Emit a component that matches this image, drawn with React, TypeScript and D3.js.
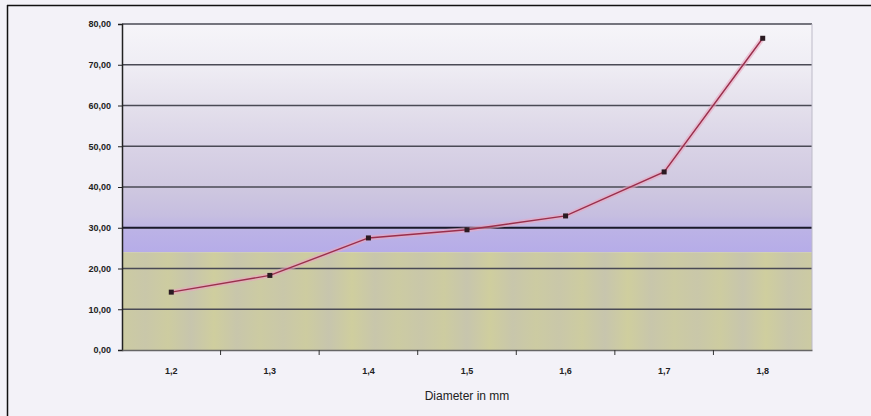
import React, { useEffect, useRef } from "react";
import * as d3 from "d3";

const diameters = ["1,2", "1,3", "1,4", "1,5", "1,6", "1,7", "1,8"];
const values = [14.2, 18.3, 27.5, 29.5, 32.9, 43.7, 76.5];
const yTicks = [0, 10, 20, 30, 40, 50, 60, 70, 80];
const xTitle = "Diameter in mm";

const App: React.FC = () => {
  const svgRef = useRef<SVGSVGElement>(null);

  useEffect(() => {
    const svg = d3.select(svgRef.current);
    const width = 871;
    const height = 416;
    const left = 122;
    const right = 812;
    const top = 24;
    const bottom = 350;

    svg.selectAll("*").remove();

    const x = d3.scaleBand<string>().domain(diameters).range([left, right]);
    const y = d3.scaleLinear().domain([0, 80]).range([bottom, top]);

    // page background + top/left frame
    svg.append("rect").attr("width", width).attr("height", height).attr("fill", "#f3f2f8");
    svg.append("line").attr("x1", 7).attr("x2", width).attr("y1", 5.5).attr("y2", 5.5)
      .attr("stroke", "#111").attr("stroke-width", 1.5);
    svg.append("line").attr("x1", 7.5).attr("x2", 7.5).attr("y1", 5).attr("y2", height)
      .attr("stroke", "#111").attr("stroke-width", 1.5);

    const defs = svg.append("defs");
    const split = 24;
    const grad = defs.append("linearGradient").attr("id", "bg").attr("x1", 0).attr("x2", 0)
      .attr("y1", 0).attr("y2", 1);
    const stops: [number, string][] = [
      [80, "#f6f5f9"],
      [70, "#efedf4"],
      [60, "#e4e0ec"],
      [50, "#d9d3e6"],
      [40, "#cfc8e0"],
      [33, "#c6bee0"],
      [29, "#bbb2e6"],
      [24, "#b6ace8"],
    ];
    stops.forEach(([v, c]) => {
      grad.append("stop").attr("offset", (y(v) - top) / (y(split) - top)).attr("stop-color", c);
    });
    svg.append("rect").attr("x", left).attr("y", top).attr("width", right - left)
      .attr("height", y(split) - top).attr("fill", "url(#bg)");

    // olive lower band with soft vertical streaks
    const olive = defs.append("linearGradient").attr("id", "olive").attr("x1", 0).attr("x2", 1)
      .attr("y1", 0).attr("y2", 0);
    const streak = ["#cccba2", "#c8c6ab", "#cfce9e", "#c7c5ad", "#cdcca0", "#c9c7a9"];
    d3.range(0, 1.0001, 1 / 30).forEach((o, i) => {
      olive.append("stop").attr("offset", o).attr("stop-color", streak[(i * 5) % streak.length]);
    });
    svg.append("rect").attr("x", left).attr("y", y(split)).attr("width", right - left)
      .attr("height", bottom - y(split)).attr("fill", "url(#olive)");

    // grid lines
    svg.append("g").selectAll("line").data(yTicks.filter((t) => t > 0)).join("line")
      .attr("x1", left).attr("x2", right)
      .attr("y1", (d) => y(d)).attr("y2", (d) => y(d))
      .attr("stroke", (d) => (d === 30 ? "#1a1a2a" : "#4a4a55"))
      .attr("stroke-width", (d) => (d === 30 ? 1.8 : 1.3));

    // right edge faint
    svg.append("line").attr("x1", right).attr("x2", right).attr("y1", top).attr("y2", bottom)
      .attr("stroke", "#bdbac8").attr("stroke-width", 1);

    // axes
    const yAxis = d3.axisLeft(y).tickValues(yTicks).tickSize(4)
      .tickFormat((d) => d3.format(".2f")(d as number).replace(".", ","));
    const gy = svg.append("g").attr("transform", `translate(${left},0)`).call(yAxis);
    gy.select(".domain").attr("stroke", "#222").attr("stroke-width", 1.5);
    gy.selectAll(".tick line").attr("stroke", "#222");
    gy.selectAll("text").attr("font-family", "Liberation Sans, Arial, sans-serif")
      .attr("font-size", 9).attr("font-weight", "bold").attr("fill", "#222").attr("dx", -4);

    const xAxis = d3.axisBottom(x).tickSize(0).tickPadding(18);
    const gx = svg.append("g").attr("transform", `translate(0,${bottom})`).call(xAxis);
    gx.select(".domain").attr("stroke", "#666").attr("stroke-width", 1.5);
    gx.selectAll("text").attr("font-family", "Liberation Sans, Arial, sans-serif")
      .attr("font-size", 9).attr("font-weight", "bold").attr("fill", "#222");
    gx.selectAll(".sep").data(diameters.slice(1)).join("line")
      .attr("x1", (d) => x(d)!).attr("x2", (d) => x(d)!)
      .attr("y1", 0).attr("y2", 5).attr("stroke", "#333");

    svg.append("text").attr("x", (left + right) / 2).attr("y", 400).attr("text-anchor", "middle")
      .attr("font-family", "Liberation Sans, Arial, sans-serif").attr("font-size", 12)
      .attr("fill", "#222").text(xTitle);

    // series
    const line = d3.line<number>()
      .x((_, i) => x(diameters[i])! + x.bandwidth() / 2)
      .y((d) => y(d));
    svg.append("path").attr("d", line(values) || "").attr("fill", "none")
      .attr("stroke", "#eaa6bf").attr("stroke-width", 5).attr("stroke-opacity", 0.6);
    svg.append("path").attr("d", line(values) || "").attr("fill", "none")
      .attr("stroke", "#9a2f4c").attr("stroke-width", 1.4);
    svg.append("g").selectAll("rect").data(values).join("rect")
      .attr("x", (_, i) => x(diameters[i])! + x.bandwidth() / 2 - 2.5)
      .attr("y", (d) => y(d) - 2.5)
      .attr("width", 5).attr("height", 5)
      .attr("fill", "#2a1a22");
  }, []);

  return (
    <svg ref={svgRef} width={871} height={416}
      style={{ position: "absolute", left: 0, top: 0, display: "block" }} />
  );
};

export default App;
